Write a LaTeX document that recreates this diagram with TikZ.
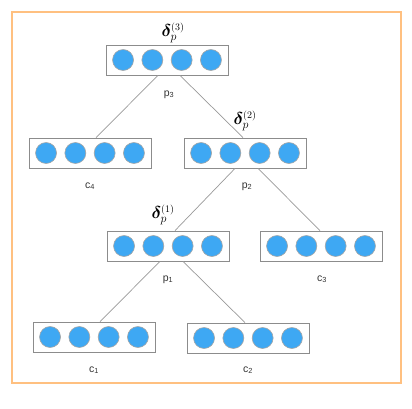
\documentclass[tikz,border=0pt]{standalone}
\usepackage{fontspec}
\setsansfont{Liberation Sans}
\usepackage{bm}
\usetikzlibrary{calc}
\definecolor{frameorange}{RGB}{255,192,128}
\definecolor{unitblue}{RGB}{62,168,243}
\tikzstyle{layer} = [draw=gray!90, line width=0.8pt, rectangle, minimum width=122pt, minimum height=30pt, inner sep=0pt]
\tikzstyle{unit} = [draw=gray!70, circle, fill=unitblue, minimum size=21pt, inner sep=0pt, line width=0.6pt]
\tikzstyle{line} = [draw=gray!80, line width=0.7pt]
\tikzstyle{tag} = [font=\sffamily\fontsize{10.5}{12}\selectfont, text=black!80, anchor=base, inner sep=0pt]
\tikzstyle{delta} = [font=\LARGE, inner sep=0pt]

\begin{document}
\begin{tikzpicture}[x=1pt, y=-1pt]
        \useasboundingbox (0,0) rectangle (412,408);
        \draw[frameorange, line width=2pt] (12,12) rectangle (401,383);
        % tree of layers
        \node[layer] (p3) at (167,60) {};
        \node[layer] (c4) at (90,153) {};
        \node[layer] (p2) at (245,153) {};
        \node[layer] (p1) at (168,246) {};
        \node[layer] (c3) at (321,246) {};
        \node[layer] (c1) at (94,337) {};
        \node[layer] (c2) at (248,338) {};
        \foreach \n in {p3,c4,p2,p1,c3,c1,c2}
            \foreach \i in {1,...,4}
                \node[unit] (\n-\i) at ($(\n)+({(\i-2.5)*29.3},0)$) {};
        % labels
        \node[tag] (p3-tag) at ($(p3)+(2,36)$) {p\textsubscript{3}};
        \node[tag] (c4-tag) at ($(c4)+(0,35)$) {c\textsubscript{4}};
        \node[tag] (p2-tag) at ($(p2)+(2,35)$) {p\textsubscript{2}};
        \node[tag] (p1-tag) at ($(p1)+(0,35)$) {p\textsubscript{1}};
        \node[tag] (c3-tag) at ($(c3)+(1,35)$) {c\textsubscript{3}};
        \node[tag] (c1-tag) at ($(c1)+(0,35)$) {c\textsubscript{1}};
        \node[tag] (c2-tag) at ($(c2)+(0,34)$) {c\textsubscript{2}};
        \node[delta] (d3) at ($(p3)+(6,-27)$) {$\bm{\delta}_{p}^{\scriptscriptstyle(3)}$};
        \node[delta] (d2) at ($(p2)+(0,-32)$) {$\bm{\delta}_{p}^{\scriptscriptstyle(2)}$};
        \node[delta] (d1) at ($(p1)+(-5,-31)$) {$\bm{\delta}_{p}^{\scriptscriptstyle(1)}$};
        % edges
        \path[line] ([xshift=-9pt]p3.south) -- ([xshift=6pt]c4.north);
        \path[line] ([xshift=13pt]p3.south) -- ([xshift=-2pt]p2.north);
        \path[line] ([xshift=-10pt]p2.south) -- ([xshift=7pt]p1.north);
        \path[line] ([xshift=13pt]p2.south) -- ([xshift=-1pt]c3.north);
        \path[line] ([xshift=-8pt]p1.south) -- ([xshift=6pt]c1.north);
        \path[line] ([xshift=15pt]p1.south) -- ([xshift=-3pt]c2.north);
    \end{tikzpicture}
\end{document}
